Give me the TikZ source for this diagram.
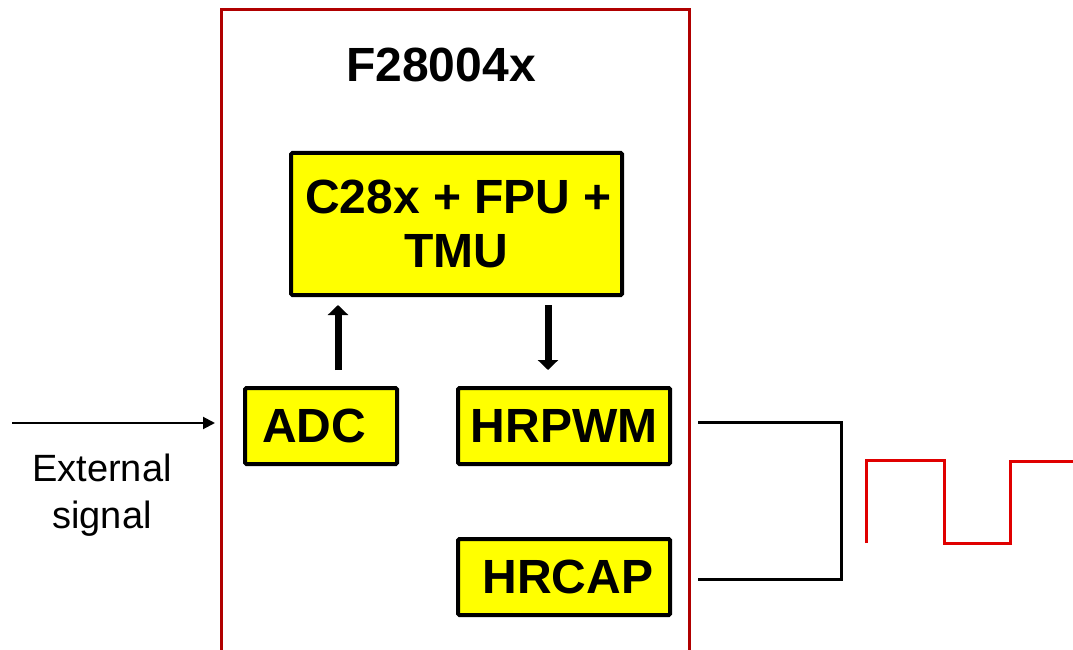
\documentclass[tikz,border=0pt]{standalone}
\usepackage{fontspec}
\setmainfont{Liberation Sans}
\usepackage{xcolor}
\definecolor{colorChip}{RGB}{176,0,0}
\definecolor{colorWave}{RGB}{224,0,0}
\definecolor{colorBlock}{RGB}{255,255,0}
\usepackage{tikz}
\usetikzlibrary{arrows.meta, positioning}
\tikzset{block/.style={draw=black, line width=3pt, fill=colorBlock, rounded corners=1pt,
  font=\fontsize{36}{41}\selectfont\bfseries, align=center, inner sep=0pt}}

\begin{document}
\begin{tikzpicture}[x=0.75pt, y=-0.75pt, bus/.style={line width=5.25pt, -{Triangle[width=15pt, length=7.5pt]}}, sig/.style={line width=1.5pt, -{Triangle[width=9pt, length=9pt]}}]
\useasboundingbox (0,0) rectangle (1073,649);
\draw[colorChip, line width=2.25pt] (221,652) -- (221,10) -- (689,10) -- (689,652);
\node[font=\fontsize{36}{41}\selectfont\bfseries] (chipname) at (441,65) {F28004x};
\node[block, minimum width=248.25pt, minimum height=106.5pt] (cpu) at (456.5,224) {\hspace*{3pt}C28x + FPU +\\TMU};
\node[block, minimum width=114pt, minimum height=57pt] (adc) at (321,426) {ADC\hspace*{10pt}};
\node[block, minimum width=159pt, minimum height=57pt] (hrpwm) at (564,426) {HRPWM};
\node[block, minimum width=159pt, minimum height=57pt] (hrcap) at (564,577) {\hspace*{6pt}HRCAP};
\draw[bus, shorten <=12pt, shorten >=6pt] ([xshift=12.75pt]adc.north) -- ([xshift=12.75pt]adc.north |- cpu.south);
\draw[bus, shorten <=6pt, shorten >=12pt] ([xshift=-12pt]hrpwm.north |- cpu.south) -- ([xshift=-12pt]hrpwm.north);
% external input
\coordinate (extsrc) at (12,423);
\coordinate (extin) at (215,423);
\draw[sig] (extsrc) -- (extin);
\node[font=\fontsize{28.5}{35}\selectfont, align=center] (extlabel) at (102,495) {External\\signal};
% PWM loop back to capture
\coordinate (pwmout) at (698,422);
\coordinate (capout) at (698,579);
\coordinate (joint) at (841,500);
\draw[line width=2.25pt] (pwmout) -| (joint) |- (capout);
\draw[colorWave, line width=2.25pt] (866,543) -- (866,460) -- (944,460) -- (944,543) -- (1010,543) -- (1010,461) -- (1073,461);
\end{tikzpicture}
\end{document}
